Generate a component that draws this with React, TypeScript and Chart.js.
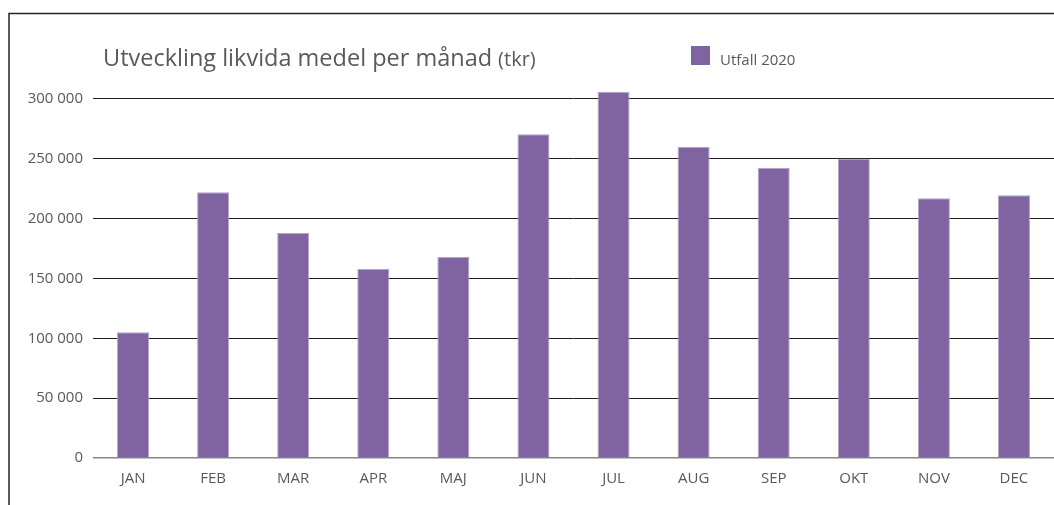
import React, { useEffect, useRef } from "react";
import { Chart, registerables } from "chart.js";

Chart.register(...registerables);

const months = ["JAN", "FEB", "MAR", "APR", "MAJ", "JUN", "JUL", "AUG", "SEP", "OKT", "NOV", "DEC"];
const utfall2020 = [105000, 222000, 188000, 158000, 168000, 270500, 306000, 260000, 242500, 250000, 217000, 219500];
const yTicks = [0, 50000, 100000, 150000, 200000, 250000, 300000];
const seriesLabel = "Utfall 2020";
const titleMain = "Utveckling likvida medel per månad";
const titleUnit = "(tkr)";

const FONT = "'Open Sans', sans-serif";
const TEXT = "#595959";
const PURPLE = "#8064A2";

const fmt = (v: number) => String(v).replace(/\B(?=(\d{3})+(?!\d))/g, " ");

const decorPlugin = {
  id: "decor",
  beforeDraw(chart: any) {
    const ctx = chart.ctx;
    ctx.save();
    ctx.strokeStyle = "#262626";
    ctx.lineWidth = 1.5;
    ctx.beginPath();
    ctx.moveTo(9, 505);
    ctx.lineTo(9, 13.5);
    ctx.lineTo(1054, 13.5);
    ctx.stroke();
    ctx.restore();
  },
  afterDraw(chart: any) {
    const ctx = chart.ctx;
    ctx.save();
    ctx.fillStyle = TEXT;
    ctx.textBaseline = "alphabetic";
    ctx.textAlign = "left";
    ctx.font = `23.5px ${FONT}`;
    ctx.fillText(titleMain, 103, 65.5);
    const w = ctx.measureText(titleMain).width;
    ctx.font = `20px ${FONT}`;
    ctx.fillText(titleUnit, 103 + w + 6, 65.5);
    ctx.fillStyle = PURPLE;
    ctx.fillRect(691, 46, 19, 19);
    ctx.fillStyle = TEXT;
    ctx.font = `15px ${FONT}`;
    ctx.fillText(chart.data.datasets[0].label, 720, 64.5);
    ctx.restore();
  },
};

export default function App() {
  const ref = useRef<HTMLCanvasElement | null>(null);
  useEffect(() => {
    document.body.style.margin = "0";
    const chart = new Chart(ref.current!, {
      type: "bar",
      data: {
        labels: months,
        datasets: [
          {
            label: seriesLabel,
            data: utfall2020,
            backgroundColor: PURPLE,
            borderColor: "#b4a4c9",
            borderWidth: 1,
            categoryPercentage: 0.8,
            barPercentage: 0.5,
          },
        ],
      },
      options: {
        animation: false,
        responsive: true,
        maintainAspectRatio: false,
        layout: { padding: { top: 87, left: 0, right: 0, bottom: 0 } },
        plugins: {
          legend: { display: false },
          title: { display: false },
          tooltip: { enabled: false },
        },
        scales: {
          x: {
            grid: { display: false, drawTicks: false },
            border: { display: false },
            ticks: { color: TEXT, font: { family: FONT, size: 15 }, padding: 12 },
            afterFit: (s: any) => {
              s.height = 47;
            },
          },
          y: {
            min: 0,
            max: 310000,
            afterBuildTicks: (s: any) => {
              s.ticks = yTicks.map((v) => ({ value: v }));
            },
            grid: {
              drawTicks: false,
              color: (c: any) => (c.tick && c.tick.value === 0 ? "#868686" : "#1f1f1f"),
              lineWidth: (c: any) => (c.tick && c.tick.value === 0 ? 1.5 : 1),
            },
            border: { display: false },
            ticks: {
              color: TEXT,
              font: { family: FONT, size: 15 },
              padding: 10,
              callback: (v: any) => fmt(Number(v)),
            },
            afterFit: (s: any) => {
              s.width = 93;
            },
          },
        },
      },
      plugins: [decorPlugin],
    });
    return () => chart.destroy();
  }, []);
  return (
    <div style={{ position: "fixed", left: 0, top: 0, width: 1054, height: 505 }}>
      <canvas ref={ref} />
    </div>
  );
}
